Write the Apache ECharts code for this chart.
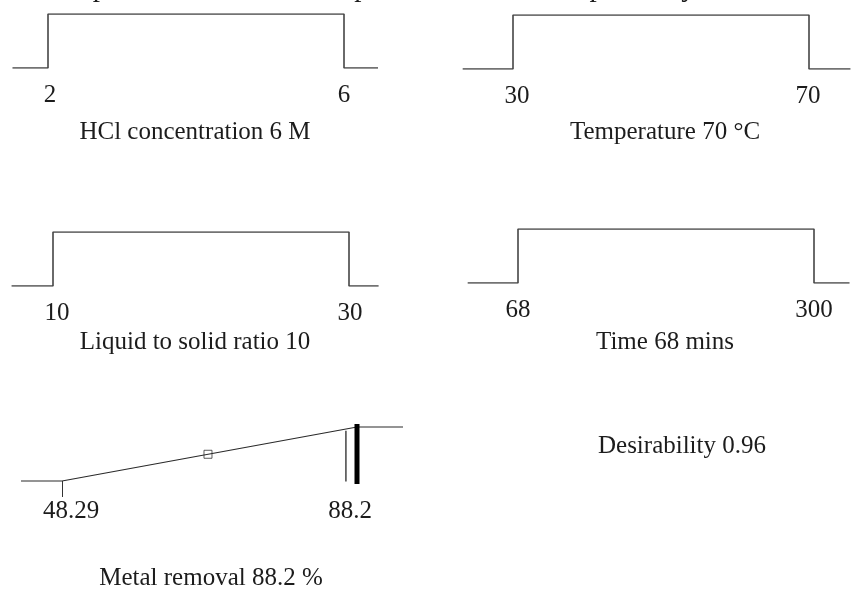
<!DOCTYPE html>
<html>
<head>
<meta charset="utf-8">
<script src="https://cdn.jsdelivr.net/npm/echarts@6/dist/echarts.min.js"></script>
<style>
  html, body { margin: 0; padding: 0; background: #fff; }
  #chart { width: 851px; height: 590px; }
</style>
</head>
<body>
<div id="chart"></div>
<script>
// factor limits (low, high) and the chosen setting
const factorNames = ['HCl concentration', 'Temperature', 'Liquid to solid ratio', 'Time'];
const factorUnits = ['M', '°C', '', 'mins'];
const factorLow = [2, 30, 10, 68];
const factorHigh = [6, 70, 30, 300];
const factorValue = [6, 70, 10, 68];

// response ramp: metal removal
const responseName = 'Metal removal';
const responseUnit = '%';
const responseLow = 48.29;
const responseHigh = 88.2;
const responsePredicted = 88.2;
const responseExperimental = 86.7;
const responseMarker = 68.04;
const desirability = 0.96;

const font = '"Liberation Serif", "DejaVu Serif", serif';
const ink = '#1c1c1c';

// panel placement: left/top of the low limit, width of low..high, height of the step,
// how far the flat tails reach (fraction of range), label nudges (px) and title centre
const panels = [
  { at: [48, 14, 296, 54], tail: [0.12, 0.115], nudge: [2, 0], title: [195, 132] },
  { at: [513, 15, 296, 54], tail: [0.17, 0.14], nudge: [4, -1], title: [665, 132] },
  { at: [53, 232, 296, 54], tail: [0.14, 0.10], nudge: [4, 1], title: [195, 342] },
  { at: [518, 229, 296, 54], tail: [0.17, 0.12], nudge: [0, 0], title: [665, 342] }
];
const rampPanel = { at: [62, 427, 295, 54], tail: [0.139, 0.156], nudge: [9, -7], title: [211, 578] };

const grids = [], xAxes = [], yAxes = [], series = [], texts = [];

function pad(n) {
  return n >= 0 ? [0, 0, 0, 2 * n] : [0, -2 * n, 0, 0];
}

function axisPair(i, p, lo, hi, tickVals) {
  const r = hi - lo, pxPer = p.at[2] / r;
  const min = lo - r * p.tail[0], max = hi + r * p.tail[1];
  grids.push({
    left: p.at[0] - r * p.tail[0] * pxPer, top: p.at[1],
    width: (max - min) * pxPer, height: p.at[3]
  });
  const style = { fontSize: 25, fontFamily: font, color: ink };
  xAxes.push({
    gridIndex: i, type: 'value', min: min, max: max,
    axisLine: { show: false }, splitLine: { show: false },
    axisTick: tickVals
      ? { show: true, customValues: tickVals, length: 16, lineStyle: { color: '#333', width: 1 } }
      : { show: false },
    axisLabel: {
      customValues: [lo, hi], margin: tickVals ? 18 : 15,
      formatter: v => (v === lo ? '{a|' : '{b|') + v + '}',
      rich: {
        a: Object.assign({ padding: pad(p.nudge[0]) }, style),
        b: Object.assign({ padding: pad(p.nudge[1]) }, style)
      }
    }
  });
  yAxes.push({ gridIndex: i, type: 'value', min: 0, max: 1, show: false });
  return [min, max];
}

factorLow.forEach((lo, i) => {
  const hi = factorHigh[i], p = panels[i];
  const [min, max] = axisPair(i, p, lo, hi);
  series.push({
    type: 'line', xAxisIndex: i, yAxisIndex: i, silent: true,
    symbol: 'none', lineStyle: { color: '#454545', width: 1.6 },
    data: [[min, 0], [lo, 0], [lo, 1], [hi, 1], [hi, 0], [max, 0]]
  });
  const unit = factorUnits[i] ? ' ' + factorUnits[i] : '';
  texts.push({ text: factorNames[i] + ' ' + factorValue[i] + unit, x: p.title[0], y: p.title[1] });
});

// response ramp
const k = 4;
const dOf = v => (v - responseLow) / (responseHigh - responseLow);
const [rMin, rMax] = axisPair(k, rampPanel, responseLow, responseHigh, [responseLow]);
series.push({
  type: 'line', xAxisIndex: k, yAxisIndex: k, clip: false, silent: true,
  symbol: 'none', lineStyle: { color: '#2a2a2a', width: 1.2 },
  data: [[rMin, 0], [responseLow, 0], [responseHigh, 1], [rMax, 1]]
});
series.push({
  type: 'line', xAxisIndex: k, yAxisIndex: k, clip: false, silent: true,
  symbol: 'none', lineStyle: { color: '#444', width: 1.5 },
  data: [[responseExperimental, -0.01], [responseExperimental, dOf(responseExperimental) - 0.03]]
});
series.push({
  type: 'line', xAxisIndex: k, yAxisIndex: k, clip: false, silent: true,
  symbol: 'none', lineStyle: { color: '#000', width: 5, cap: 'square' },
  data: [[responsePredicted, -0.01], [responsePredicted, 1.01]]
});
series.push({
  type: 'scatter', xAxisIndex: k, yAxisIndex: k, clip: false, silent: true,
  symbol: 'rect', symbolSize: 8,
  itemStyle: { color: '#fff', borderColor: '#333', borderWidth: 1 },
  data: [[responseMarker, dOf(responseMarker)]]
});
texts.push({ text: responseName + ' ' + responsePredicted + ' ' + responseUnit, x: rampPanel.title[0], y: rampPanel.title[1] });
texts.push({ text: 'Desirability ' + desirability, x: 682, y: 446 });

const graphic = texts.map(t => ({
  type: 'text', x: t.x, y: t.y, silent: true,
  style: { text: t.text, align: 'center', verticalAlign: 'middle', fontSize: 25, fontFamily: font, fill: ink }
}));
// caption of the page above the figure, cut off at the top edge
graphic.push({
  type: 'text', x: 50, y: -12, silent: true,
  style: { text: 'the predicted value and experimental value respectively.', align: 'left', verticalAlign: 'middle',
           fontSize: 29, fontFamily: font, fill: ink }
});

const chart = echarts.init(document.getElementById('chart'));
chart.setOption({
  animation: false,
  backgroundColor: '#fff',
  grid: grids,
  xAxis: xAxes,
  yAxis: yAxes,
  series: series,
  graphic: graphic
});
</script>
</body>
</html>
